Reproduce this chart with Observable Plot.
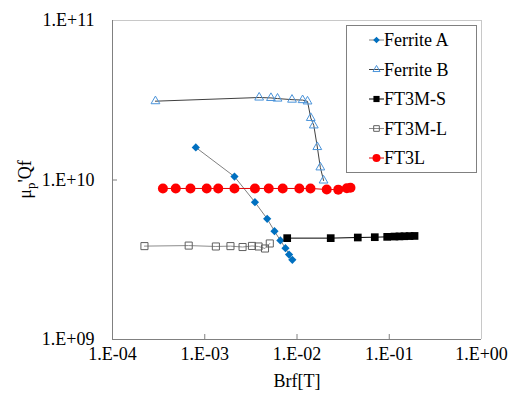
<!DOCTYPE html>
<html><head><meta charset="utf-8">
<script src="https://cdn.jsdelivr.net/npm/d3@7"></script>
<script src="https://cdn.jsdelivr.net/npm/@observablehq/plot@0.6"></script>
</head><body style="margin:0">
<div id="chart"></div>
<script>
// Data
const seriesNames = ["Ferrite A", "Ferrite B", "FT3M-S", "FT3M-L", "FT3L"];

const ferriteA_x = [8.0e-4, 2.1e-3, 3.5e-3, 4.75e-3, 5.7e-3, 6.6e-3, 7.5e-3, 8.2e-3, 8.9e-3];
const ferriteA_y = [1.6e10, 1.05e10, 7.26e9, 5.71e9, 4.78e9, 4.18e9, 3.74e9, 3.41e9, 3.16e9];

const ferriteB_x = [2.92e-4, 3.89e-3, 5.22e-3, 6.15e-3, 8.83e-3, 1.15e-2, 1.30e-2, 1.41e-2, 1.52e-2, 1.66e-2, 1.79e-2, 1.94e-2];
const ferriteB_y = [3.12e10, 3.29e10, 3.27e10, 3.24e10, 3.19e10, 3.17e10, 3.11e10, 2.45e10, 2.2e10, 1.61e10, 1.2e10, 9.93e9];

const ft3ms_x = [7.83e-3, 2.32e-2, 4.56e-2, 6.97e-2, 9.5e-2, 0.114, 0.129, 0.146, 0.166, 0.188];
const ft3ms_y = [4.32e9, 4.32e9, 4.36e9, 4.38e9, 4.40e9, 4.42e9, 4.43e9, 4.44e9, 4.45e9, 4.46e9];

const ft3ml_x = [2.22e-4, 6.7e-4, 1.32e-3, 1.9e-3, 2.57e-3, 3.25e-3, 3.83e-3, 4.5e-3, 5.07e-3];
const ft3ml_y = [3.85e9, 3.88e9, 3.83e9, 3.85e9, 3.80e9, 3.86e9, 3.83e9, 3.72e9, 4.0e9];

const ft3l_x = [3.52e-4, 4.85e-4, 7.0e-4, 1.05e-3, 1.4e-3, 2.1e-3, 3.5e-3, 4.94e-3, 7.0e-3, 1.06e-2, 1.40e-2, 2.1e-2, 2.8e-2, 3.47e-2, 3.8e-2];
const ft3l_y = [8.85e9, 8.85e9, 8.85e9, 8.85e9, 8.85e9, 8.85e9, 8.85e9, 8.85e9, 8.85e9, 8.85e9, 8.85e9, 8.72e9, 8.70e9, 8.88e9, 8.95e9];

const xTicks = [1e-4, 1e-3, 1e-2, 1e-1, 1];
const yTicks = [1e9, 1e10, 1e11];

const toRows = (xs, ys) => xs.map((x, i) => ({x, y: ys[i]}));
const A = toRows(ferriteA_x, ferriteA_y);
const B = toRows(ferriteB_x, ferriteB_y);
const S = toRows(ft3ms_x, ft3ms_y);
const L = toRows(ft3ml_x, ft3ml_y);
const R = toRows(ft3l_x, ft3l_y);

const fmt = d => { const e = Math.round(Math.log10(d)); return "1.E" + (e < 0 ? "-" : "+") + String(Math.abs(e)).padStart(2, "0"); };

const W = 509, H = 401, mL = 112, mR = 28, mT = 20, mB = 62;
const plotW = W - mL - mR, plotH = H - mT - mB;

const styles = [
  {name: seriesNames[0], data: A, line: "#808080", symbol: "diamond2", r: 3.7, fill: "#0070C0", stroke: "none"},
  {name: seriesNames[1], data: B, line: "#404040", symbol: "triangle2", r: 4.2, fill: "none", stroke: "#4B94DA"},
  {name: seriesNames[2], data: S, line: "#000000", symbol: "square2", r: 4.9, fill: "#000000", stroke: "none"},
  {name: seriesNames[3], data: L, line: "#8c8c8c", symbol: "square2", r: 4.5, fill: "none", stroke: "#606060"},
  {name: seriesNames[4], data: R, line: "#e00000", symbol: "circle", r: 5, fill: "#FF0000", stroke: "none"}
];

const marks = [
  Plot.ruleY([1e11], {stroke: "#c8c8c8"}),
  Plot.ruleX([1], {stroke: "#c8c8c8"}),
  Plot.tickX(xTicks.slice(1, -1), {x: d => d, insetTop: plotH - 5, stroke: "#808080"}),
  Plot.tickY(yTicks.slice(1, -1), {y: d => d, insetRight: plotW - 5, stroke: "#808080"}),
  Plot.ruleX([1e-4], {stroke: "#808080"}),
  Plot.ruleY([1e9], {stroke: "#808080"}),
  Plot.axisX({ticks: xTicks, tickFormat: fmt, tickSize: 0, tickPadding: 8, label: "Brf[T]", labelAnchor: "center", labelArrow: "none", labelOffset: 47, fill: "#000"}),
  Plot.axisY({ticks: yTicks, tickFormat: fmt, tickSize: 0, tickPadding: 18, label: null, fill: "#000"})
];
for (const s of styles) {
  marks.push(Plot.line(s.data, {x: "x", y: "y", stroke: s.line, strokeWidth: 1}));
  marks.push(Plot.dot(s.data, {x: "x", y: "y", symbol: () => s.symbol, r: s.r, fill: s.fill, stroke: s.stroke, strokeWidth: 1}));
}

const svg = Plot.plot({
  width: W, height: H,
  marginLeft: mL, marginRight: mR, marginTop: mT, marginBottom: mB,
  style: {fontFamily: "Liberation Serif", fontSize: "18px"},
  x: {type: "log", domain: [1e-4, 1]},
  y: {type: "log", domain: [1e9, 1e11]},
  symbol: {type: "identity"},
  marks
});

const g = d3.select(svg);
// y-axis label with subscript
const yl = g.append("text")
  .attr("transform", `translate(31,${mT + plotH / 2}) rotate(-90)`)
  .attr("text-anchor", "middle").attr("fill", "#000");
yl.append("tspan").text("μ");
yl.append("tspan").attr("font-size", 13).attr("dy", 4).text("p");
yl.append("tspan").attr("dy", -4).text("'Qf");

// legend
const lg = g.append("g").attr("text-anchor", "start");
lg.append("rect").attr("x", 346.5).attr("y", 25.5).attr("width", 130).attr("height", 147)
  .attr("fill", "#fff").attr("stroke", "#808080");
const symMap = {diamond2: d3.symbolDiamond2, triangle2: d3.symbolTriangle2, square2: d3.symbolSquare2, circle: d3.symbolCircle};
styles.forEach((s, i) => {
  const cy = 40 + i * 29.5;
  lg.append("line").attr("x1", 369).attr("x2", 384).attr("y1", cy).attr("y2", cy).attr("stroke", s.line);
  const lr = s.r * 0.8;
  lg.append("path").attr("d", d3.symbol(symMap[s.symbol], Math.PI * lr * lr)())
    .attr("transform", `translate(376.5,${cy})`).attr("fill", s.fill).attr("stroke", s.stroke);
  lg.append("text").attr("x", 384).attr("y", cy + 6).attr("text-anchor", "start")
    .attr("fill", "#000").text(s.name);
});

document.getElementById("chart").append(svg);
</script>
</body></html>
